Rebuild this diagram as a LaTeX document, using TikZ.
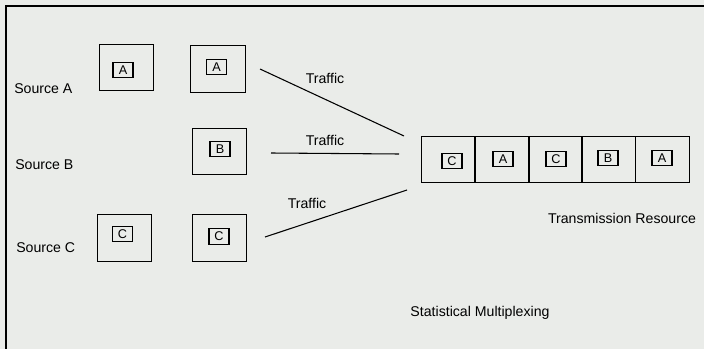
\documentclass[tikz,border=0pt]{standalone}
\usepackage{fontspec}
\setmainfont{Liberation Sans}
\definecolor{paper}{RGB}{234,236,233}
\tikzset{
  packet/.style={shape=rectangle, draw=black, line width=0.8pt, minimum width=41pt, minimum height=35pt, inner sep=0pt},
  tag/.style={shape=rectangle, draw=black, line width=0.8pt, minimum width=15pt, minimum height=11.5pt, inner sep=0pt, font=\fontsize{9.5}{10}\selectfont},
  slot/.style={shape=rectangle, draw=black, line width=0.8pt, minimum width=40pt, minimum height=35pt, inner sep=0pt},
  caption/.style={font=\fontsize{10.6}{12}\selectfont, inner sep=0pt}
}
\begin{document}
\begin{tikzpicture}[x=0.75pt, y=-0.75pt]
    \useasboundingbox[fill=paper] (0,0) rectangle (704,349);
    \draw[line width=1.5pt] (6,349) -- (6,6) -- (704,6);

    % sources
    \node[caption, anchor=west] (srcA) at (14,89) {Source A};
    \node[caption, anchor=west] (srcB) at (15,165) {Source B};
    \node[caption, anchor=west] (srcC) at (16,248) {Source C};

    \node[packet] (A1) at (126.5,67.5) {};
    \node[tag] (tA1) at (123,70) {A};
    \node[packet] (A2) at (218,69) {};
    \node[tag] (tA2) at (216.5,67) {A};
    \node[packet] (B1) at (219.5,151.5) {};
    \node[tag] (tB1) at (220,149) {B};
    \node[packet] (C1) at (124.5,238) {};
    \node[tag] (tC1) at (122.5,234) {C};
    \node[packet] (C2) at (219.5,238) {};
    \node[tag] (tC2) at (219,236.5) {C};

    % transmission resource
    \node[slot] (S1) at (448,159.5) {};
    \node[tag] (tS1) at (452,161) {C};
    \node[slot] (S2) at (502.5,159.5) {};
    \node[tag] (tS2) at (503,159) {A};
    \node[slot] (S3) at (555.5,159.5) {};
    \node[tag] (tS3) at (556,159) {C};
    \node[slot] (S4) at (608.5,159.5) {};
    \node[tag] (tS4) at (608,158) {B};
    \node[slot] (S5) at (662.5,159.5) {};
    \node[tag] (tS5) at (662,158) {A};

    % traffic lines
    \coordinate (fromA) at (260,69);
    \coordinate (toA) at (404,136);
    \coordinate (fromB) at (271,153);
    \coordinate (toB) at (399,154);
    \coordinate (fromC) at (265,237);
    \coordinate (toC) at (407,190);

    \path[line width=0.8pt] (fromA) edge (toA);
    \path[line width=0.8pt] (fromB) edge (toB);
    \path[line width=0.8pt] (fromC) edge (toC);

    \node[caption] (trA) at (325,78) {Traffic};
    \node[caption] (trB) at (325,140) {Traffic};
    \node[caption] (trC) at (307,203) {Traffic};

    \node[caption] (res) at (622,218) {Transmission Resource};
    \node[caption] (mux) at (480,313) {Statistical Multiplexing};
\end{tikzpicture}
\end{document}
